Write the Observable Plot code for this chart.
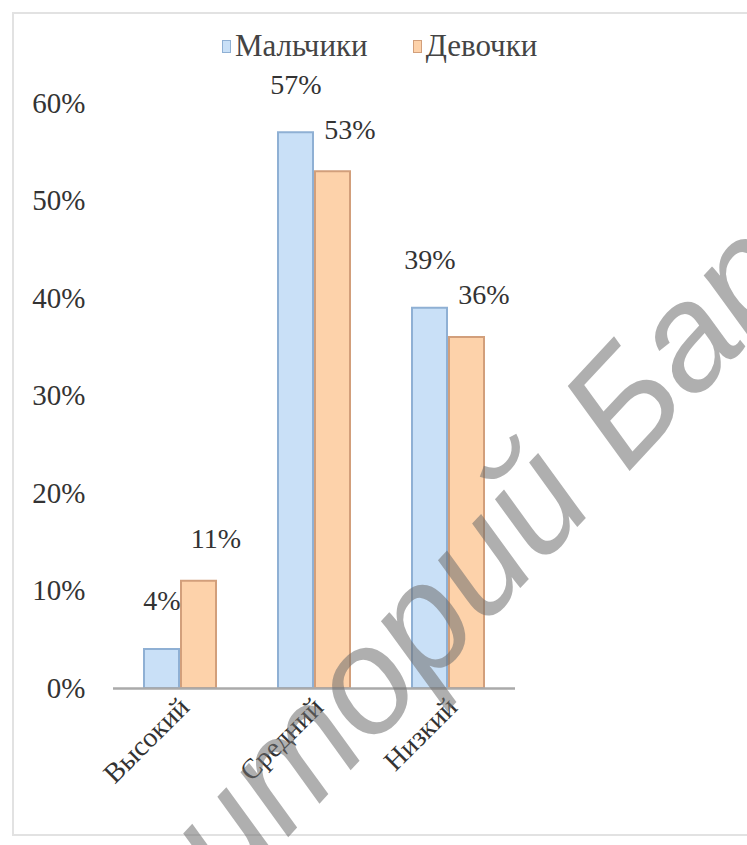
<!DOCTYPE html>
<html>
<head>
<meta charset="utf-8">
<script src="https://cdn.jsdelivr.net/npm/d3@7"></script>
<script src="https://cdn.jsdelivr.net/npm/@observablehq/plot@0.6"></script>
<style>
  html, body { margin: 0; padding: 0; background: #fff; }
  #wrap { position: relative; width: 747px; height: 845px; overflow: hidden; font-family: "Liberation Serif", serif; }
  #frame { position: absolute; left: 12px; top: 12px; width: 760px; height: 824px; border: 2px solid #e2e2e2; box-sizing: border-box; }
  #legend { position: absolute; top: 28px; left: 222px; display: flex; align-items: center; font-size: 31px; color: #444; white-space: nowrap; }
  .sw { display: inline-block; width: 9px; height: 13px; margin-right: 4px; box-sizing: border-box; }
  .item { display: flex; align-items: center; margin-right: 45px; }
  #chart { position: absolute; left: 0; top: 0; }
  #wm { position: absolute; left: 0; top: 0; font-family: "Liberation Sans", sans-serif; font-style: italic; font-size: 150px; color: rgba(110,110,110,0.55); white-space: nowrap; transform-origin: 0 0; pointer-events: none; }
</style>
</head>
<body>
<div id="wrap">
  <div id="frame"></div>
  <div id="chart"></div>
  <div id="legend"></div>
  <div id="wm">Репозиторий БарГУ</div>
</div>
<script>
const categories = ["Высокий", "Средний", "Низкий"];
const series = ["Мальчики", "Девочки"];
const boys = [4, 57, 39];
const girls = [11, 53, 36];
const yTicks = [0, 10, 20, 30, 40, 50, 60];

const fills = {"Мальчики": "#c9e0f7", "Девочки": "#fdd2aa"};
const strokes = {"Мальчики": "#8fb0d4", "Девочки": "#d29f7b"};

const rows = [];
categories.forEach((c, i) => {
  rows.push({cat: c, sex: series[0], value: boys[i]});
  rows.push({cat: c, sex: series[1], value: girls[i]});
});

const font = "Liberation Serif";
const chart = Plot.plot({
  width: 747,
  height: 845,
  marginTop: 103,
  marginBottom: 157,
  marginLeft: 113,
  marginRight: 232,
  style: {fontFamily: font, color: "#333", background: "transparent"},
  fx: {domain: categories, padding: 0, label: null, axis: null},
  x: {domain: series, paddingInner: 0, paddingOuter: 0.78, axis: null},
  y: {domain: [0, 60], axis: null},
  marks: [
    Plot.barY(rows, {fx: "cat", x: "sex", y: "value", fill: d => fills[d.sex], stroke: d => strokes[d.sex], strokeWidth: 2, insetLeft: 1, insetRight: 1}),
    Plot.ruleY([0], {stroke: "#aaaaaa", strokeWidth: 2.5}),
    Plot.axisY({ticks: yTicks, tickSize: 0, tickPadding: 28, tickFormat: d => d + "%", fontSize: 29, label: null}),
    Plot.axisFx({anchor: "bottom", tickRotate: -45, tickSize: 0, tickPadding: 14, fontSize: 28, dx: 4, label: null}),
    Plot.text(rows.filter(d => d.sex === series[0]), {fx: "cat", x: "sex", y: "value", text: d => d.value + "%", dy: -48, fontSize: 28}),
    Plot.text(rows.filter(d => d.sex === series[1]), {fx: "cat", x: "sex", y: "value", text: d => d.value + "%", dy: -42, dx: 17, fontSize: 28})
  ]
});
document.getElementById("chart").appendChild(chart);

const legend = document.getElementById("legend");
series.forEach(s => {
  const item = document.createElement("span");
  item.className = "item";
  const sw = document.createElement("span");
  sw.className = "sw";
  sw.style.background = fills[s];
  sw.style.border = "1.5px solid " + strokes[s];
  item.appendChild(sw);
  item.appendChild(document.createTextNode(s));
  legend.appendChild(item);
});

const wm = document.getElementById("wm");
wm.style.transform = "translate(-155px, 1110px) rotate(-47deg)";
</script>
</body>
</html>
